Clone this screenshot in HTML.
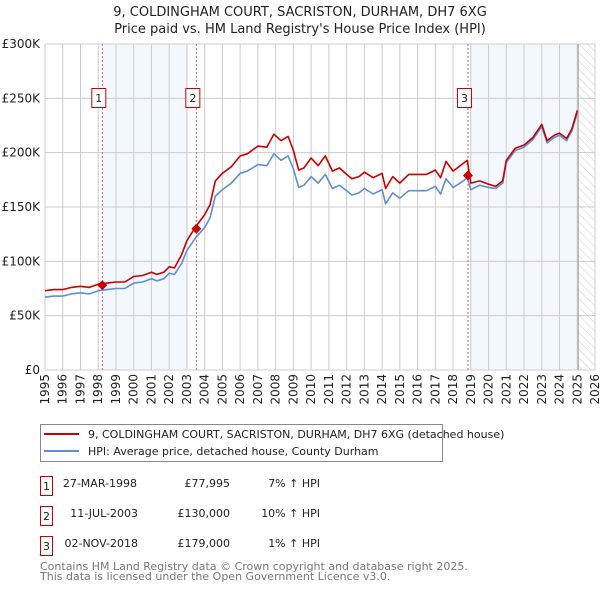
<!DOCTYPE html>
<html><head><meta charset="utf-8"><style>
body{margin:0;background:#fff;font-family:"DejaVu Sans","Liberation Sans",sans-serif;}
svg text{font-family:"DejaVu Sans","Liberation Sans",sans-serif;}
</style></head><body>
<svg id="c" width="600" height="590" xmlns="http://www.w3.org/2000/svg">
<defs><pattern id="hatch" width="6" height="6" patternUnits="userSpaceOnUse" patternTransform="rotate(-45)"><line x1="0" y1="0" x2="0" y2="6" stroke="#ccc" stroke-width="1"/></pattern></defs>
<text x="300" y="16" text-anchor="middle" font-size="13" fill="#222">9, COLDINGHAM COURT, SACRISTON, DURHAM, DH7 6XG</text>
<text x="300" y="33" text-anchor="middle" font-size="13" fill="#222">Price paid vs. HM Land Registry's House Price Index (HPI)</text>
<g id="plot"></g>
<g>
<rect x="40.5" y="424.5" width="402" height="37" fill="#fff" stroke="#888"/>
<line x1="44" y1="434" x2="79" y2="434" stroke="#cc0000" stroke-width="2"/>
<text x="88" y="438" font-size="11" fill="#222">9, COLDINGHAM COURT, SACRISTON, DURHAM, DH7 6XG (detached house)</text>
<line x1="44" y1="451" x2="79" y2="451" stroke="#5f8fd0" stroke-width="2"/>
<text x="88" y="455" font-size="11" fill="#222">HPI: Average price, detached house, County Durham</text>
</g>
<g font-size="11" fill="#222">
<rect x="40.5" y="476.5" width="12" height="19" fill="#fff" stroke="#cc0000"/><text x="46.5" y="490" text-anchor="middle">1</text>
<text x="137" y="487" text-anchor="end">27-MAR-1998</text><text x="230" y="487" text-anchor="end">£77,995</text><text x="320" y="487" text-anchor="end">7% ↑ HPI</text>
<rect x="40.5" y="506.5" width="12" height="19" fill="#fff" stroke="#cc0000"/><text x="46.5" y="520" text-anchor="middle">2</text>
<text x="138" y="517" text-anchor="end">11-JUL-2003</text><text x="230" y="517" text-anchor="end">£130,000</text><text x="320" y="517" text-anchor="end">10% ↑ HPI</text>
<rect x="40.5" y="536.5" width="12" height="19" fill="#fff" stroke="#cc0000"/><text x="46.5" y="550" text-anchor="middle">3</text>
<text x="138" y="547" text-anchor="end">02-NOV-2018</text><text x="230" y="547" text-anchor="end">£179,000</text><text x="320" y="547" text-anchor="end">1% ↑ HPI</text>
</g>
<text x="40" y="570" font-size="11" fill="#777">Contains HM Land Registry data © Crown copyright and database right 2025.</text>
<text x="40" y="580" font-size="11" fill="#777">This data is licensed under the Open Government Licence v3.0.</text>
</svg>
<script>
const years=[1995,1995.5,1996,1996.5,1997,1997.5,1998,1998.5,1999,1999.5,2000,2000.5,2001,2001.3,2001.7,2002,2002.3,2002.7,2003,2003.5,2004,2004.3,2004.6,2005,2005.5,2006,2006.4,2007,2007.5,2007.9,2008.3,2008.7,2009,2009.3,2009.6,2010,2010.4,2010.8,2011.2,2011.6,2012,2012.3,2012.7,2013,2013.5,2014,2014.2,2014.6,2015,2015.5,2016,2016.5,2017,2017.3,2017.6,2018,2018.4,2018.8,2019,2019.5,2020,2020.4,2020.8,2021,2021.5,2022,2022.5,2023,2023.3,2023.7,2024,2024.4,2024.7,2025];
const hpiValues=[67,68,68,70,71,70,73,74,75,75,80,81,84,82,84,89,88,98,110,122,131,140,160,166,172,181,183,189,188,199,193,197,185,168,170,178,172,180,167,170,165,161,163,167,162,166,153,163,158,165,165,165,169,162,176,168,172,177,166,170,168,167,172,191,202,205,212,224,209,214,216,211,220,237];
const priceValues=[73,74,74,76,77,76,79,80,81,81,86,87,90,88,90,95,94,106,119,132,143,152,174,181,187,197,199,206,205,217,211,215,202,184,186,195,188,197,183,186,180,176,178,182,177,181,167,178,172,180,180,180,184,177,192,183,188,193,172,174,171,169,174,193,204,207,214,226,211,216,218,213,222,239];
const saleYears=[1998.23,2003.53,2018.84];
const salePrices=[77.995,130,179];
const saleLabels=["1","2","3"];
const yTicks=[0,50,100,150,200,250,300];
const yTickLabels=["£0","£50K","£100K","£150K","£200K","£250K","£300K"];
const xTicks=[];for(let y=1995;y<=2026;y++)xTicks.push(y);

const L=45,R=595,T=44,B=370;
const xs=v=>L+(v-1995)/31*(R-L);
const ys=v=>B-v/300*(B-T);
const NS="http://www.w3.org/2000/svg";
const g=document.getElementById('plot');
function mk(t,a,p){const e=document.createElementNS(NS,t);for(const k in a)e.setAttribute(k,a[k]);(p||g).appendChild(e);return e;}

let s1=mk('rect',{x:xs(saleYears[0]),y:T,width:xs(2003.06)-xs(saleYears[0]),height:B-T,fill:'#eef3fd',opacity:0.7});


let s2=mk('rect',{x:xs(2018.96),y:T,width:xs(2025)-xs(2018.96),height:B-T,fill:'#eef3fd',opacity:0.7});


let h=mk('rect',{x:xs(2025.05),y:T,width:R-xs(2025.05),height:B-T,fill:'url(#hatch)'});



yTicks.forEach((v,i)=>{
  mk('line',{x1:L,x2:R,y1:ys(v),y2:ys(v),stroke:'#ccc','stroke-width':1});
  const t=mk('text',{x:L-5,y:ys(v)+4,'text-anchor':'end','font-size':12,fill:'#222'});
  t.textContent=yTickLabels[i];
  
  
});
xTicks.forEach(v=>{
  mk('line',{x1:xs(v),x2:xs(v),y1:T,y2:B,stroke:'#ccc','stroke-width':1});
  const t=mk('text',{x:0,y:0,'text-anchor':'end','font-size':12,fill:'#222',transform:`translate(${xs(v)+4},374) rotate(-90)`});
  t.textContent=v;
  
  
});
mk('line',{x1:xs(2025.05),x2:xs(2025.05),y1:T,y2:B,stroke:'#999','stroke-width':1});

saleYears.forEach((v,i)=>{
  const l=mk('line',{x1:xs(v),x2:xs(v),y1:T,y2:B,stroke:'#e06060','stroke-width':1,'stroke-dasharray':'2,2'});
  
  
});

function path(vals,color,name){
  const d=years.map((y,i)=>(i?'L':'M')+xs(y).toFixed(1)+','+ys(vals[i]).toFixed(1)).join('');
  const p=mk('path',{d:d,fill:'none',stroke:color,'stroke-width':1.6,'stroke-linejoin':'round'});
  
  
}
path(hpiValues,'#5f8fd0','hpi-line');
path(priceValues,'#cc0000','price-line');

saleYears.forEach((v,i)=>{
  const cx=xs(v),cy=ys(salePrices[i]);
  const d=mk('path',{d:`M${cx},${cy-5}L${cx+5},${cy}L${cx},${cy+5}L${cx-5},${cy}Z`,fill:'#cc0000'});
  
  
  const bx=mk('rect',{x:cx-10.5,y:88.5,width:14,height:19,fill:'#fff',stroke:'#cc0000'});
  
  
  const t=mk('text',{x:cx-3.5,y:102,'text-anchor':'middle','font-size':11,fill:'#222'});
  t.textContent=saleLabels[i];
  
  
});
</script>
</body></html>
